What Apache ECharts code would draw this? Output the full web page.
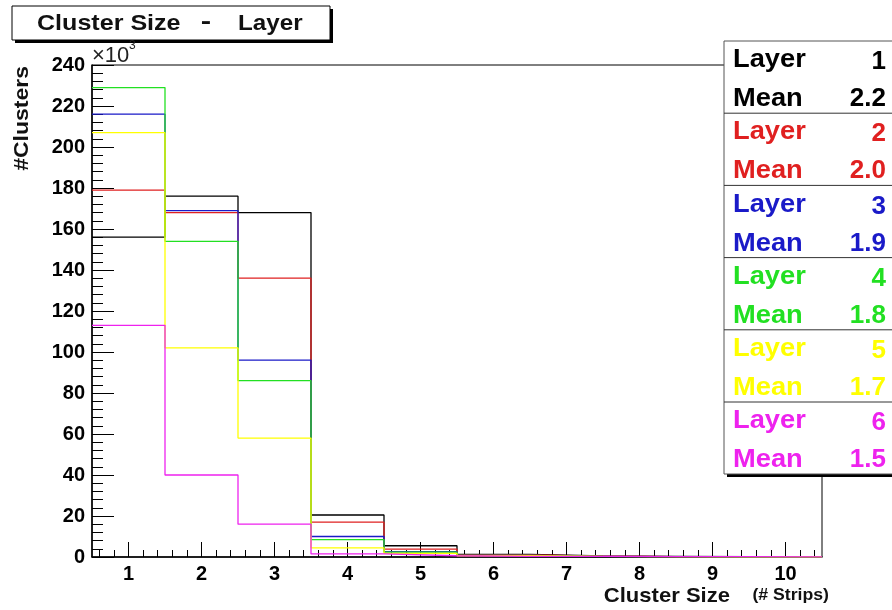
<!DOCTYPE html>
<html>
<head>
<meta charset="utf-8">
<script src="https://cdn.jsdelivr.net/npm/echarts@6/dist/echarts.min.js"></script>
<style>
  html, body { margin: 0; padding: 0; background: #fff; }
  #chart { width: 892px; height: 610px; }
</style>
</head>
<body>
<div id="chart"></div>
<script>
// cluster size bins (# strips)
var sizes = [1, 2, 3, 4, 5, 6, 7, 8, 9, 10];
// counts in units of 10^3
var layer1 = [156, 176, 168, 20.5, 5.5, 1.3, 0.5, 0.3, 0.2, 0.1];
var layer2 = [179, 168, 136, 17, 3.8, 1.0, 0.4, 0.2, 0.1, 0.1];
var layer3 = [216, 169, 96, 10, 2.6, 0.8, 0.3, 0.2, 0.1, 0.1];
var layer4 = [229, 154, 86, 8.5, 2.4, 0.8, 0.3, 0.2, 0.1, 0.1];
var layer5 = [207, 102, 58, 4.5, 1.8, 0.6, 0.3, 0.2, 0.1, 0.1];
var layer6 = [113, 40, 16, 1.5, 0.6, 0.3, 0.3, 0.2, 0.2, 0.1];
var layerNames = ['1', '2', '3', '4', '5', '6'];
var layerMeans = ['2.2', '2.0', '1.9', '1.8', '1.7', '1.5'];
var yTicks = [0, 20, 40, 60, 80, 100, 120, 140, 160, 180, 200, 220, 240];

var colors = ['#000000', '#e02020', '#1a1ac8', '#22e022', '#ffff00', '#ee22ee'];
var allLayers = [layer1, layer2, layer3, layer4, layer5, layer6];
var FONT = '"Liberation Sans", Arial, sans-serif';

// histogram outline: left edge of each bin, plus the last right edge
function steps(vals) {
    var pts = [];
    for (var i = 0; i < sizes.length; i++) {
        pts.push([sizes[i] - 0.5, vals[i]]);
    }
    pts.push([sizes[sizes.length - 1] + 0.5, vals[vals.length - 1]]);
    return pts;
}

var minorX = [];
for (var k = 0; k < 50; k++) {
    var v = Math.round((0.6 + k * 0.2) * 10) / 10;
    if (v % 1 !== 0 && v < 10.5) minorX.push(v);
}

var series = allLayers.map(function (vals, i) {
    return {
        name: 'Layer ' + layerNames[i],
        type: 'line',
        step: 'end',
        symbol: 'none',
        data: steps(vals),
        lineStyle: { color: colors[i], width: 1.3 },
        animation: false,
        z: 3
    };
});

// text helper: position on the element so scaleX stretches from the anchor
function label(txt, x, y, font, opts) {
    opts = opts || {};
    return {
        type: 'text', x: x, y: y,
        scaleX: opts.sx || 1,
        rotation: opts.rot || 0,
        style: {
            text: txt, x: 0, y: 0, font: font, fill: opts.fill || '#111',
            align: opts.align || 'left', verticalAlign: 'middle'
        },
        z: 103
    };
}

// legend box built from graphic elements
var legendX = 724, legendY = 41, blockH = 72.2, rowH = 39;
var graphics = [
    // title box with shadow
    { type: 'rect', shape: { x: 15, y: 9, width: 318, height: 34 }, style: { fill: '#000' }, z: 100 },
    { type: 'rect', shape: { x: 12, y: 6, width: 318, height: 34 }, style: { fill: '#fff', stroke: '#000', lineWidth: 1 }, z: 101 },
    label('Cluster Size', 37, 24, 'bold 22px ' + FONT, { sx: 1.14 }),
    label('-', 206, 22, 'bold 24px ' + FONT, { align: 'center', sx: 1.3 }),
    label('Layer', 238, 24, 'bold 22px ' + FONT, { sx: 1.1 }),
    // exponent
    label('×10', 92, 56, '22px ' + FONT, { fill: '#222' }),
    label('3', 129, 46, '12px ' + FONT, { fill: '#222' }),
    // y axis title
    label('#Clusters', 22, 66, 'bold 20px ' + FONT, { rot: Math.PI / 2, align: 'right', sx: 1.15 }),
    // x axis title
    label('Cluster Size', 730, 596, 'bold 21px ' + FONT, { align: 'right', sx: 1.05 }),
    label('(# Strips)', 829, 595, 'bold 17px ' + FONT, { align: 'right', sx: 1.04 }),
    // legend shadow + box
    { type: 'rect', shape: { x: legendX + 3, y: legendY + 3, width: 200, height: 433 }, style: { fill: '#000' }, z: 100 },
    { type: 'rect', shape: { x: legendX, y: legendY, width: 200, height: 433 }, style: { fill: '#fff', stroke: '#555', lineWidth: 1 }, z: 101 }
];
for (var j = 0; j < layerNames.length; j++) {
    var blockTop = legendY + j * blockH;
    if (j > 0) {
        graphics.push({ type: 'line', shape: { x1: legendX, y1: blockTop, x2: 892, y2: blockTop }, style: { stroke: '#333', lineWidth: 1 }, z: 102 });
    }
    var c = colors[j];
    var f = 'bold 26px ' + FONT;
    graphics.push(label('Layer', 733, blockTop + 19, f, { fill: c, sx: 1.05 }));
    graphics.push(label(layerNames[j], 886, blockTop + 21, f, { fill: c, align: 'right' }));
    graphics.push(label('Mean', 733, blockTop + 19 + rowH, f, { fill: c, sx: 1.05 }));
    graphics.push(label(layerMeans[j], 886, blockTop + 19 + rowH, f, { fill: c, align: 'right' }));
}

var chart = echarts.init(document.getElementById('chart'), null, { renderer: 'canvas' });
var option = {
    animation: false,
    backgroundColor: '#fff',
    grid: {
        left: 92, top: 65, right: 70, bottom: 53,
        show: true, borderColor: '#000', borderWidth: 1,
        backgroundColor: 'transparent'
    },
    xAxis: [{
        type: 'value',
        min: 0.5, max: 10.5,
        axisLine: { lineStyle: { color: '#000', width: 1.5 } },
        axisTick: { inside: true, length: 15, customValues: sizes, lineStyle: { color: '#000' } },
        axisLabel: {
            customValues: sizes, margin: 7, color: '#000',
            fontFamily: FONT, fontWeight: 'bold', fontSize: 20
        },
        splitLine: { show: false }
    }, {
        type: 'value',
        min: 0.5, max: 10.5,
        position: 'bottom',
        axisLine: { show: false },
        axisTick: { inside: true, length: 7, customValues: minorX, lineStyle: { color: '#000' } },
        axisLabel: { show: false },
        splitLine: { show: false }
    }],
    yAxis: {
        type: 'value',
        min: 0, max: 240, interval: 20,
        axisLine: { show: true, lineStyle: { color: '#000', width: 1.5 } },
        axisTick: { show: true, inside: true, length: 22, lineStyle: { color: '#000' } },
        minorTick: { show: true, splitNumber: 5, length: 11, lineStyle: { color: '#000' } },
        axisLabel: {
            margin: 7, color: '#000',
            fontFamily: FONT, fontWeight: 'bold', fontSize: 20,
            formatter: function (val) { return yTicks.indexOf(val) >= 0 ? String(val) : ''; }
        },
        splitLine: { show: false }
    },
    series: series,
    graphic: graphics
};
chart.setOption(option);
</script>
</body>
</html>
